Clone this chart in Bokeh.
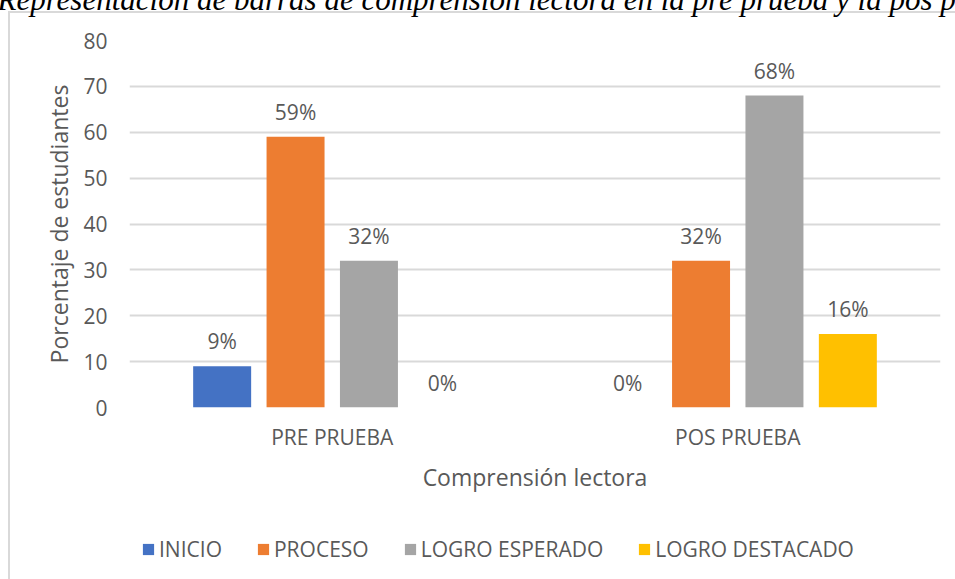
from bokeh.plotting import figure
from bokeh.layouts import column
from bokeh.models import (FactorRange, Range1d, ColumnDataSource, Legend, LegendItem,
                          SingleIntervalTicker)
from bokeh.transform import dodge
from bokeh.core.properties import value
from bokeh.embed import file_html
from bokeh.resources import INLINE

# ---- data ----
groups = ["PRE PRUEBA", "POS PRUEBA"]
series = ["INICIO", "PROCESO", "LOGRO ESPERADO", "LOGRO DESTACADO"]
inicio = [9, 0]
proceso = [59, 32]
logro_esperado = [32, 68]
logro_destacado = [0, 16]
colors = ["#4472C4", "#ED7D31", "#A5A5A5", "#FFC000"]
title_text = "Representación de barras de comprensión lectora en la pre prueba y la pos prueba"
x_title = "Comprensión lectora"
y_title = "Porcentaje de estudiantes"

values = [inicio, proceso, logro_esperado, logro_destacado]
data = {"group": groups}
for name, vals in zip(series, values):
    data[name] = vals
    data[name + "_lbl"] = [f"{v}%" for v in vals]
src = ColumnDataSource(data)

FONT = "Open Sans"
TXT = "#595959"
GRID = "#d9d9d9"
SHIFT = 48  # canvas starts this far above the window top (title is cut like the reference)
H1 = SHIFT + 515

p = figure(x_range=FactorRange(*groups), y_range=Range1d(0, 80),
           width=955, height=H1, output_backend="svg", toolbar_location=None,
           min_border_left=129, min_border_right=15, min_border_top=40 + SHIFT,
           min_border_bottom=H1 - (407 + SHIFT))
p.styles = {
    "margin-top": f"-{SHIFT}px",
    "background-image": f"linear-gradient({GRID},{GRID}), linear-gradient({GRID},{GRID})",
    "background-size": "100% 2px, 2px 100%",
    "background-position": f"8px {11 + SHIFT}px, 8px {11 + SHIFT}px",
    "background-repeat": "no-repeat",
}
p.outline_line_color = None
p.background_fill_color = None
p.border_fill_color = None

# title (its top is cut off by the window, as in the reference)
p.title.text = title_text
p.title.text_font = "Liberation Serif"
p.title.text_font_style = "italic"
p.title.text_font_size = "31px"
p.title.text_color = "black"
p.title.align = "left"
p.title.offset = -132
p.title.vertical_align = "bottom"
p.title.standoff = 48

step = 0.181
bw = 0.143
for i, (name, col) in enumerate(zip(series, colors)):
    off = (i - 1.5) * step
    p.vbar(x=dodge("group", off, range=p.x_range), top=name, width=bw,
           source=src, fill_color=col, line_color=None)
    p.text(x=dodge("group", off, range=p.x_range), y=name, text=name + "_lbl",
           source=src, text_align="center", text_baseline="alphabetic",
           y_offset=-25, text_font=value(FONT), text_font_size="21px",
           text_color=TXT)

# axes
p.xaxis.axis_label = x_title
p.yaxis.axis_label = y_title
p.yaxis.ticker = SingleIntervalTicker(interval=10)
for ax in (p.xaxis[0], p.yaxis[0]):
    ax.axis_line_color = None
    ax.major_tick_line_color = None
    ax.minor_tick_line_color = None
    ax.major_tick_out = 0
    ax.major_tick_in = 0
    ax.major_label_text_font = FONT
    ax.major_label_text_font_size = "21px"
    ax.major_label_text_color = TXT
    ax.axis_label_text_font = FONT
    ax.axis_label_text_font_size = "23px"
    ax.axis_label_text_font_style = "normal"
    ax.axis_label_text_color = TXT
p.xaxis.major_label_standoff = 15
p.xaxis.axis_label_standoff = 7
p.yaxis.major_label_standoff = 18
p.yaxis.axis_label_standoff = 5

p.xgrid.grid_line_color = None
p.ygrid.grid_line_color = GRID
p.ygrid.grid_line_width = 2

# ---- legend strip (separate small figure, continues the chart border) ----
H2 = 579 - 515
q = figure(width=955, height=H2, x_range=Range1d(0, 1), y_range=Range1d(0, 1),
           output_backend="svg", toolbar_location=None,
           min_border_left=0, min_border_right=0, min_border_top=0, min_border_bottom=0)
q.axis.visible = False
q.grid.visible = False
q.outline_line_color = None
q.background_fill_color = None
q.border_fill_color = None
q.styles = {
    "background-image": f"linear-gradient({GRID},{GRID})",
    "background-size": "2px 100%",
    "background-position": "8px 0px",
    "background-repeat": "no-repeat",
}
items = []
for name, col in zip(series, colors):
    # zero-height swatch renderer: only supplies the legend colour
    r = q.vbar(x=[0.5], top=[0], bottom=[0], width=0.01, fill_color=col, line_color=None)
    items.append(LegendItem(label=name, renderers=[r]))
legend = Legend(items=items, orientation="horizontal", location=(12, 16),
                glyph_width=14, glyph_height=14, label_standoff=4, spacing=34,
                padding=0, margin=0, border_line_color=None,
                background_fill_alpha=0, label_text_font=FONT,
                label_text_font_size="21px", label_text_color=TXT)
q.add_layout(legend)

layout = column(p, q, spacing=0)
open("out.html", "w").write(file_html(layout, INLINE))
